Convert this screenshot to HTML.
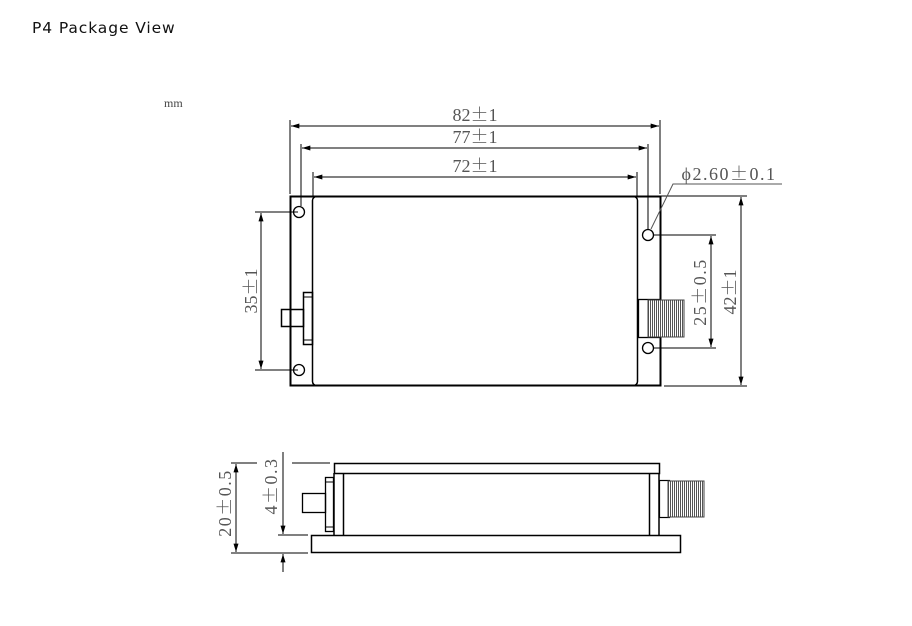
<!DOCTYPE html>
<html><head><meta charset="utf-8"><style>
html,body{margin:0;padding:0;background:#fff;width:912px;height:626px;overflow:hidden}
.pm{font-family:"Noto Serif CJK SC","Noto Sans CJK SC",serif}
</style></head><body>
<svg width="912" height="626" viewBox="0 0 912 626" xmlns="http://www.w3.org/2000/svg">
<defs>
<marker id="a" viewBox="0 0 10 6" refX="10" refY="3" markerWidth="9" markerHeight="5" orient="auto-start-reverse" markerUnits="userSpaceOnUse"><path d="M0,0 L10,3 L0,6 z" fill="#000"/></marker>
<pattern id="h" width="2" height="4" patternUnits="userSpaceOnUse"><rect width="2" height="4" fill="#fff"/><rect width="1" height="4" fill="#555"/></pattern>
</defs>
<text x="32" y="33" font-family="'DejaVu Sans',sans-serif" font-size="15.5" letter-spacing="0.9" fill="#111">P4 Package View</text>
<text x="164" y="107" font-family="'Liberation Serif',serif" font-size="12" fill="#444">mm</text>
<g fill="none" stroke="#000" stroke-width="1">
<rect x="290.5" y="196.5" width="370" height="189" stroke-width="2"/>
<rect x="312.5" y="196.5" width="325" height="189" rx="4" stroke-width="1.5"/>
<circle cx="299" cy="212" r="5.5" stroke-width="1.3"/>
<circle cx="299" cy="370" r="5.5" stroke-width="1.3"/>
<circle cx="648" cy="235" r="5.5" stroke-width="1.3"/>
<circle cx="648" cy="348" r="5.5" stroke-width="1.3"/>
<rect x="303.5" y="292.5" width="9" height="52" stroke-width="1.5"/>
<line x1="303" y1="297" x2="312" y2="297"/><line x1="303" y1="340" x2="312" y2="340"/>
<rect x="281.5" y="309.5" width="22" height="17" stroke-width="1.5"/>
<rect x="638.5" y="299.5" width="22" height="38" stroke-width="1.3"/>
<rect x="648" y="300" width="36" height="37" fill="url(#h)" stroke="#444"/>
<line x1="290" y1="120" x2="290" y2="194"/><line x1="660" y1="120" x2="660" y2="194"/>
<line x1="301" y1="144" x2="301" y2="206"/><line x1="648" y1="144" x2="648" y2="230"/>
<line x1="313" y1="172" x2="313" y2="196"/><line x1="637" y1="172" x2="637" y2="196"/>
<line x1="291" y1="126" x2="659" y2="126" marker-start="url(#a)" marker-end="url(#a)"/>
<line x1="302" y1="148" x2="647" y2="148" marker-start="url(#a)" marker-end="url(#a)"/>
<line x1="314" y1="177" x2="636" y2="177" marker-start="url(#a)" marker-end="url(#a)"/>
<line x1="255" y1="212" x2="298" y2="212"/><line x1="255" y1="370" x2="298" y2="370"/>
<line x1="261" y1="213" x2="261" y2="369" marker-start="url(#a)" marker-end="url(#a)"/>
<line x1="660" y1="196" x2="747" y2="196"/><line x1="664" y1="386" x2="747" y2="386"/>
<line x1="741" y1="197" x2="741" y2="385" marker-start="url(#a)" marker-end="url(#a)"/>
<line x1="654" y1="235" x2="716" y2="235"/><line x1="654" y1="348" x2="716" y2="348"/>
<line x1="711" y1="236" x2="711" y2="347" marker-start="url(#a)" marker-end="url(#a)"/>
<polyline points="651,229 673,184 782,184" stroke="#555"/>
<rect x="334.5" y="463.5" width="325" height="10" stroke-width="1.5"/>
<line x1="334" y1="473" x2="334" y2="535" stroke-width="1.5"/>
<line x1="659" y1="473" x2="659" y2="535" stroke-width="1.5"/>
<line x1="343.5" y1="473" x2="343.5" y2="535" stroke-width="1.5"/>
<line x1="649.5" y1="473" x2="649.5" y2="535" stroke-width="1.5"/>
<rect x="311.5" y="535.5" width="369" height="17" stroke-width="1.5"/>
<rect x="325.5" y="477.5" width="8" height="54" stroke-width="1.3"/>
<line x1="325" y1="482" x2="334" y2="482"/><line x1="325" y1="527" x2="334" y2="527"/>
<rect x="302.5" y="493.5" width="23" height="19" stroke-width="1.3"/>
<rect x="659.5" y="480.5" width="10" height="37" stroke-width="1.2"/>
<rect x="668" y="481" width="36" height="36" fill="url(#h)" stroke="#444"/>
<line x1="231" y1="463" x2="257" y2="463"/><line x1="292" y1="463" x2="330" y2="463"/>
<line x1="231" y1="553" x2="308" y2="553"/><line x1="278" y1="535" x2="308" y2="535"/>
<line x1="236" y1="464" x2="236" y2="552" marker-start="url(#a)" marker-end="url(#a)"/>
<line x1="283" y1="452" x2="283" y2="534" marker-end="url(#a)"/>
<line x1="283" y1="572" x2="283" y2="554" marker-end="url(#a)"/>
</g>
<g font-family="'Liberation Serif','DejaVu Serif',serif" font-size="18" fill="#555">
<text x="475" y="121" text-anchor="middle">82<tspan class="pm">±</tspan>1</text>
<text x="475" y="143" text-anchor="middle">77<tspan class="pm">±</tspan>1</text>
<text x="475" y="172" text-anchor="middle">72<tspan class="pm">±</tspan>1</text>
<text x="729" y="180" text-anchor="middle" letter-spacing="1.5">ϕ2.60<tspan class="pm">±</tspan>0.1</text>
<text transform="translate(257,291) rotate(-90)" text-anchor="middle">35<tspan class="pm">±</tspan>1</text>
<text transform="translate(706,292) rotate(-90)" text-anchor="middle" letter-spacing="1.5">25<tspan class="pm">±</tspan>0.5</text>
<text transform="translate(736,292) rotate(-90)" text-anchor="middle">42<tspan class="pm">±</tspan>1</text>
<text transform="translate(231,503) rotate(-90)" text-anchor="middle" letter-spacing="1.5">20<tspan class="pm">±</tspan>0.5</text>
<text transform="translate(277,486) rotate(-90)" text-anchor="middle" letter-spacing="1.5">4<tspan class="pm">±</tspan>0.3</text>
</g>
</svg>
</body></html>
